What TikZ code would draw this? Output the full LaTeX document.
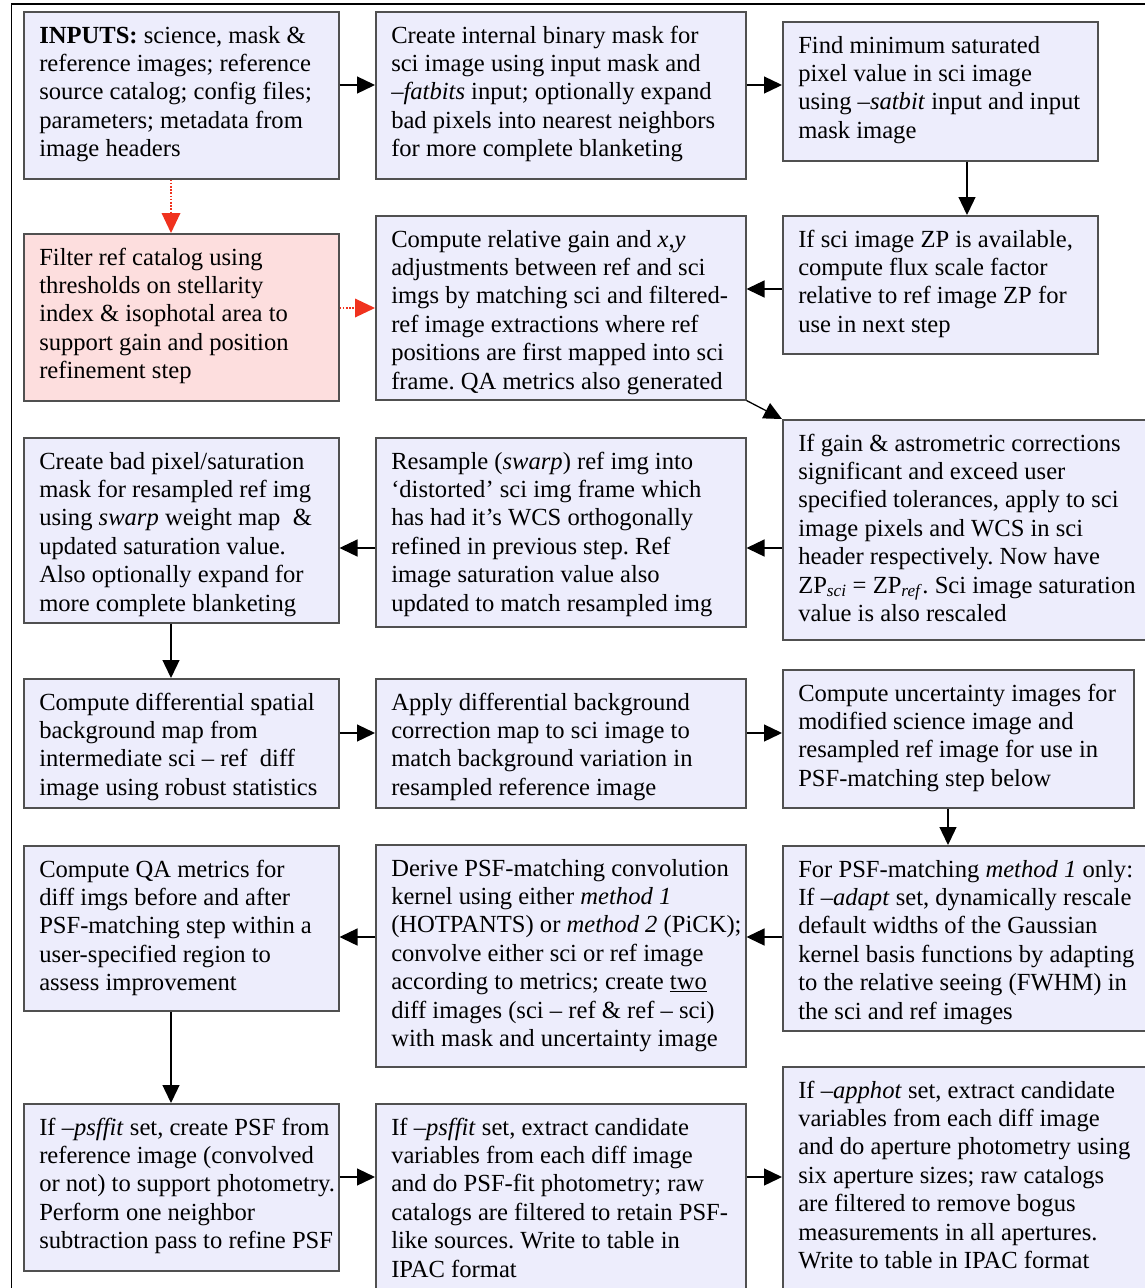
\documentclass[tikz,border=0pt]{standalone}
\usepackage{fontspec}
\setmainfont{Liberation Serif}
\usetikzlibrary{arrows.meta}
\definecolor{boxfill}{RGB}{237,237,252}
\definecolor{pinkfill}{RGB}{253,222,222}
\definecolor{boxline}{RGB}{80,80,80}
\definecolor{redarr}{RGB}{240,50,30}
\tikzset{
  bx/.style={draw=boxline, line width=1.5pt, fill=boxfill, anchor=north west, inner sep=0pt},
  pbx/.style={bx, fill=pinkfill},
  arr/.style={line width=1.3pt, -{Triangle[length=18pt,width=17pt]}},
  redflow/.style={line width=2pt, redarr, dash pattern=on 1.6pt off 1.6pt, -{Triangle[length=20pt,width=19pt,fill=redarr,line width=0pt]}}
}
% name, x, y, w, h, style, text
\newcommand\flowbx[7]{%
  \node[#6, minimum width=#4pt, minimum height=#5pt] (#1) at (#2pt,-#3pt)
  {\parbox[c][#5pt][t]{#4pt}{\vspace*{11.4pt}\hspace*{15.5pt}\begin{tabular}{@{}l@{}}#7\end{tabular}}};}
\begin{document}
\frenchspacing
\begin{tikzpicture}
\useasboundingbox (0,0) rectangle (1145pt,-1288pt);
\clip (0,0) rectangle (1145pt,-1288pt);
\fill[white] (0,0) rectangle (1145pt,-1288pt);
\fontsize{24.6pt}{28.4pt}\selectfont
% outer frame
\draw[line width=1.3pt] (1200pt,-4pt) -- (11.5pt,-4pt) -- (11.5pt,-1310pt);

\flowbx{A}{23}{11}{315}{167}{bx}{\textbf{INPUTS:} science, mask \&\\ reference images; reference\\ source catalog; config files;\\ parameters; metadata from\\ image headers}
\flowbx{B}{375}{11}{370}{167}{bx}{Create internal binary mask for\\ sci image using input mask and\\ \textit{–fatbits} input; optionally expand\\ bad pixels into nearest neighbors\\ for more complete blanketing}
\flowbx{C}{782}{21}{315}{139}{bx}{Find minimum saturated\\ pixel value in sci image\\ using \textit{–satbit} input and input\\ mask image}
\flowbx{D}{23}{233}{315}{167}{pbx}{Filter ref catalog using\\ thresholds on stellarity\\ index \& isophotal area to\\ support gain and position\\ refinement step}
\flowbx{E}{375}{215}{370}{184}{bx}{Compute relative gain and \textit{x},\textit{y}\\ adjustments between ref and sci\\ imgs by matching sci and filtered-\\ ref image extractions where ref\\ positions are first mapped into sci\\ frame. QA metrics also generated}
\flowbx{F}{782}{215}{315}{138}{bx}{If sci image ZP is available,\\ compute flux scale factor\\ relative to ref image ZP for\\ use in next step}
\flowbx{G}{782}{419}{390}{220}{bx}{If gain \& astrometric corrections\\ significant and exceed user\\ specified tolerances, apply to sci\\ image pixels and WCS in sci\\ header respectively. Now have\\ ZP\textsubscript{\textit{sci}} = ZP\textsubscript{\textit{ref}}. Sci image saturation\\ value is also rescaled}
\flowbx{H}{375}{437}{370}{189}{bx}{Resample (\textit{swarp}) ref img into\\ ‘distorted’ sci img frame which\\ has had it’s WCS orthogonally\\ refined in previous step. Ref\\ image saturation value also\\ updated to match resampled img}
\flowbx{I}{23}{437}{315}{185}{bx}{Create bad pixel/saturation\\ mask for resampled ref img\\ using \textit{swarp} weight map~ \&\\ updated saturation value.\\ Also optionally expand for\\ more complete blanketing}
\flowbx{J}{23}{678}{315}{129}{bx}{Compute differential spatial\\ background map from\\ intermediate sci – ref~ diff\\ image using robust statistics}
\flowbx{K}{375}{678}{370}{129}{bx}{Apply differential background\\ correction map to sci image to\\ match background variation in\\ resampled reference image}
\flowbx{L}{782}{669}{351}{138}{bx}{Compute uncertainty images for\\ modified science image and\\ resampled ref image for use in\\ PSF-matching step below}
\flowbx{M}{23}{845}{315}{165}{bx}{Compute QA metrics for\\ diff imgs before and after\\ PSF-matching step within a\\ user-specified region to\\ assess improvement}
\flowbx{N}{375}{844}{370}{222}{bx}{Derive PSF-matching convolution\\ kernel using either \textit{method 1}\\ (HOTPANTS) or \textit{method 2} (PiCK);\\ convolve either sci or ref image\\ according to metrics; create \underline{two}\\ diff images (sci – ref \& ref – sci)\\ with mask and uncertainty image}
\flowbx{O}{782}{845}{390}{185}{bx}{For PSF-matching \textit{method 1} only:\\ If \textit{–adapt} set, dynamically rescale\\ default widths of the Gaussian\\ kernel basis functions by adapting\\ to the relative seeing (FWHM) in\\ the sci and ref images}
\flowbx{P}{23}{1103}{315}{167}{bx}{If \textit{–psffit} set, create PSF from\\ reference image (convolved\\ or not) to support photometry.\\ Perform one neighbor\\ subtraction pass to refine PSF}
\flowbx{Q}{375}{1103}{370}{210}{bx}{If \textit{–psffit} set, extract candidate\\ variables from each diff image\\ and do PSF-fit photometry; raw\\ catalogs are filtered to retain PSF-\\ like sources. Write to table in\\ IPAC format}
\flowbx{R}{782}{1066}{390}{240}{bx}{If \textit{–apphot} set, extract candidate\\ variables from each diff image\\ and do aperture photometry using\\ six aperture sizes; raw catalogs\\ are filtered to remove bogus\\ measurements in all apertures.\\ Write to table in IPAC format}

% connectors
\draw[arr] ([yshift=-74pt]A.north east) -- ([yshift=-74pt]B.north west);
\draw[arr] ([yshift=-74pt]B.north east) -- ([yshift=-64pt]C.north west);
\draw[arr] ([xshift=185pt]C.south west) -- ([xshift=185pt]F.north west);
\draw[arr] ([yshift=-74pt]F.north west) -- ([yshift=-74pt]E.north east);
\draw[redflow] ([xshift=148pt]A.south west) -- ([xshift=148pt]D.north west);
\draw[redflow] ([yshift=-75pt]D.north east) -- ([yshift=-93pt]E.north west);
\draw[arr] (E.south east) -- (G.north west);
\draw[arr] ([yshift=-129pt]G.north west) -- ([yshift=-111pt]H.north east);
\draw[arr] ([yshift=-111pt]H.north west) -- ([yshift=-111pt]I.north east);
\draw[arr] ([xshift=148pt]I.south west) -- ([xshift=148pt]J.north west);
\draw[arr] ([yshift=-55pt]J.north east) -- ([yshift=-55pt]K.north west);
\draw[arr] ([yshift=-55pt]K.north east) -- ([yshift=-64pt]L.north west);
\draw[arr] ([xshift=166pt]L.south west) -- ([xshift=166pt]O.north west);
\draw[arr] ([yshift=-92pt]O.north west) -- ([yshift=-93pt]N.north east);
\draw[arr] ([yshift=-93pt]N.north west) -- ([yshift=-92pt]M.north east);
\draw[arr] ([xshift=148pt]M.south west) -- ([xshift=148pt]P.north west);
\draw[arr] ([yshift=-74pt]P.north east) -- ([yshift=-74pt]Q.north west);
\draw[arr] ([yshift=-74pt]Q.north east) -- ([yshift=-111pt]R.north west);
\end{tikzpicture}
\end{document}
